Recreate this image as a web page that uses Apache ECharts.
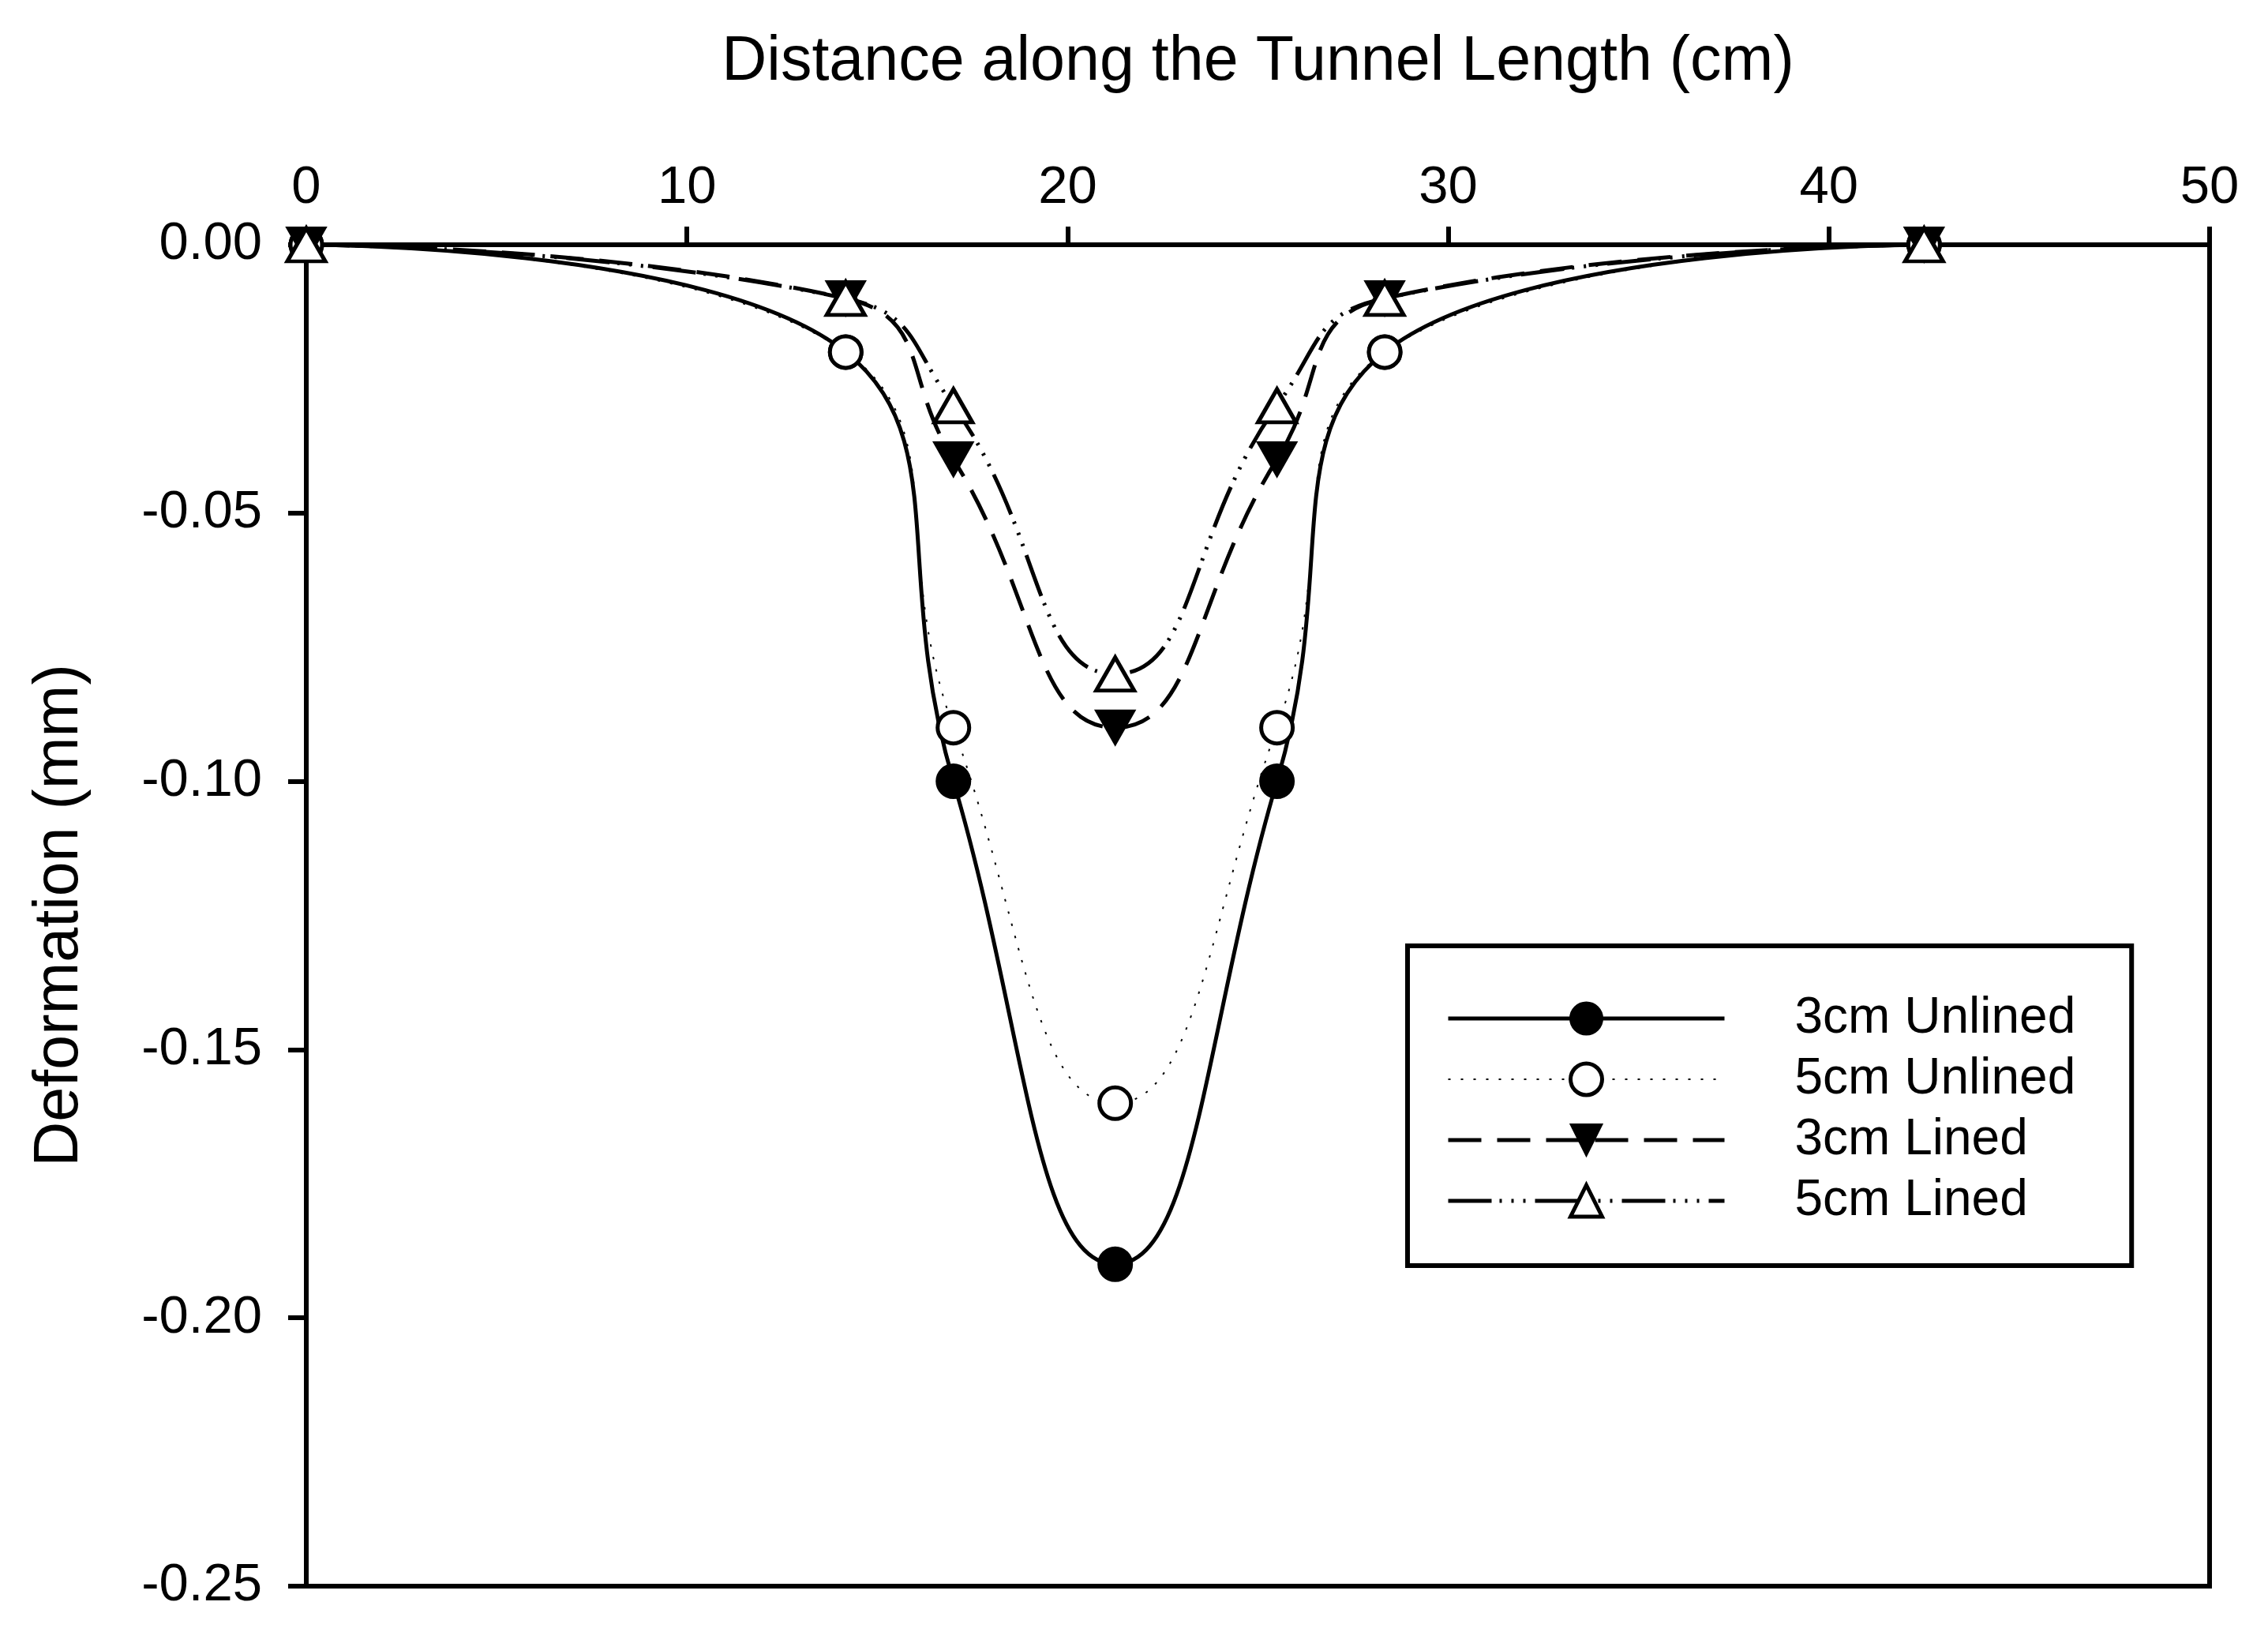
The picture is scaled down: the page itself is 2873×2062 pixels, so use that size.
<!DOCTYPE html>
<html>
<head>
<meta charset="utf-8">
<script src="https://cdn.jsdelivr.net/npm/echarts@6/dist/echarts.min.js"></script>
<style>
html, body { margin: 0; padding: 0; background: #fff; }
#chart { width: 2873px; height: 2062px; }
</style>
</head>
<body>
<div id="chart"></div>
<script>
// distance along tunnel (cm)
var distance = [0, 14.17, 17, 21.25, 25.5, 28.33, 42.5];
// deformation (mm)
var unlined3cm = [0, -0.02, -0.10, -0.19, -0.10, -0.02, 0];
var unlined5cm = [0, -0.02, -0.09, -0.16, -0.09, -0.02, 0];
var lined3cm = [0, -0.01, -0.04, -0.09, -0.04, -0.01, 0];
var lined5cm = [0, -0.01, -0.03, -0.08, -0.03, -0.01, 0];
var seriesNames = ['3cm Unlined', '5cm Unlined', '3cm Lined', '5cm Lined'];

function pairs(ys) {
    var out = [];
    for (var i = 0; i < distance.length; i++) {
        out.push([distance[i], ys[i]]);
    }
    return out;
}

var fontName = '"Liberation Sans", Arial, sans-serif';
var chart = echarts.init(document.getElementById('chart'));
var option = {
    animation: false,
    backgroundColor: '#fff',
    textStyle: { fontFamily: fontName, color: '#000' },
    grid: {
        left: 388, top: 310, right: 74, bottom: 53,
        show: true, borderColor: '#000', borderWidth: 6,
        containLabel: false
    },
    xAxis: {
        type: 'value',
        position: 'top',
        min: 0, max: 50, interval: 10,
        name: 'Distance along the Tunnel Length (cm)',
        nameLocation: 'middle',
        nameGap: 191,
        nameTextStyle: { fontSize: 79, fontFamily: fontName, color: '#000' },
        axisLine: { show: true, lineStyle: { color: '#000', width: 6 } },
        axisTick: { show: true, inside: false, length: 23, lineStyle: { color: '#000', width: 6 } },
        axisLabel: { fontSize: 67, fontFamily: fontName, color: '#000', margin: 38 },
        splitLine: { show: false }
    },
    yAxis: {
        type: 'value',
        min: -0.25, max: 0, interval: 0.05,
        name: 'Deformation (mm)',
        nameLocation: 'middle',
        nameGap: 272,
        nameTextStyle: { fontSize: 79, fontFamily: fontName, color: '#000' },
        axisLine: { show: true, lineStyle: { color: '#000', width: 6 } },
        axisTick: { show: true, inside: false, length: 23, lineStyle: { color: '#000', width: 6 } },
        axisLabel: {
            fontSize: 67, fontFamily: fontName, color: '#000', margin: 56,
            formatter: function (v) { return v.toFixed(2); }
        },
        splitLine: { show: false }
    },
    legend: {
        data: seriesNames,
        orient: 'vertical',
        left: 1783, top: 1198,
        itemWidth: 350, itemHeight: 50, itemGap: 13,
        padding: [60, 71, 50, 49],
        borderColor: '#000', borderWidth: 6,
        lineStyle: { width: 'inherit' },
        itemStyle: { borderWidth: 'inherit' },
        textStyle: { fontSize: 64, fontFamily: fontName, color: '#000', padding: [0, 0, 0, 84] }
    },
    series: [
        {
            name: seriesNames[0], type: 'line', smooth: 0.5,
            data: pairs(unlined3cm),
            symbol: 'circle', symbolSize: 42,
            lineStyle: { color: '#000', width: 5, type: 'solid' },
            itemStyle: { color: '#000', borderColor: '#000', borderWidth: 3 }
        },
        {
            name: seriesNames[1], type: 'line', smooth: 0.5,
            data: pairs(unlined5cm),
            symbol: 'circle', symbolSize: 40,
            lineStyle: { color: '#000', width: 2, type: [3, 13] },
            itemStyle: { color: '#fff', borderColor: '#000', borderWidth: 5 }
        },
        {
            name: seriesNames[2], type: 'line', smooth: 0.5,
            data: pairs(lined3cm),
            symbol: 'triangle', symbolRotate: 180, symbolSize: [50, 44],
            lineStyle: { color: '#000', width: 5, type: [42, 20] },
            itemStyle: { color: '#000', borderColor: '#000', borderWidth: 2 }
        },
        {
            name: seriesNames[3], type: 'line', smooth: 0.5,
            data: pairs(lined5cm),
            symbol: 'triangle', symbolSize: [48, 42],
            lineStyle: { color: '#000', width: 5, type: [55, 10, 3, 12, 3, 12, 3, 12] },
            itemStyle: { color: '#fff', borderColor: '#000', borderWidth: 5 }
        }
    ]
};
chart.setOption(option);
</script>
</body>
</html>
